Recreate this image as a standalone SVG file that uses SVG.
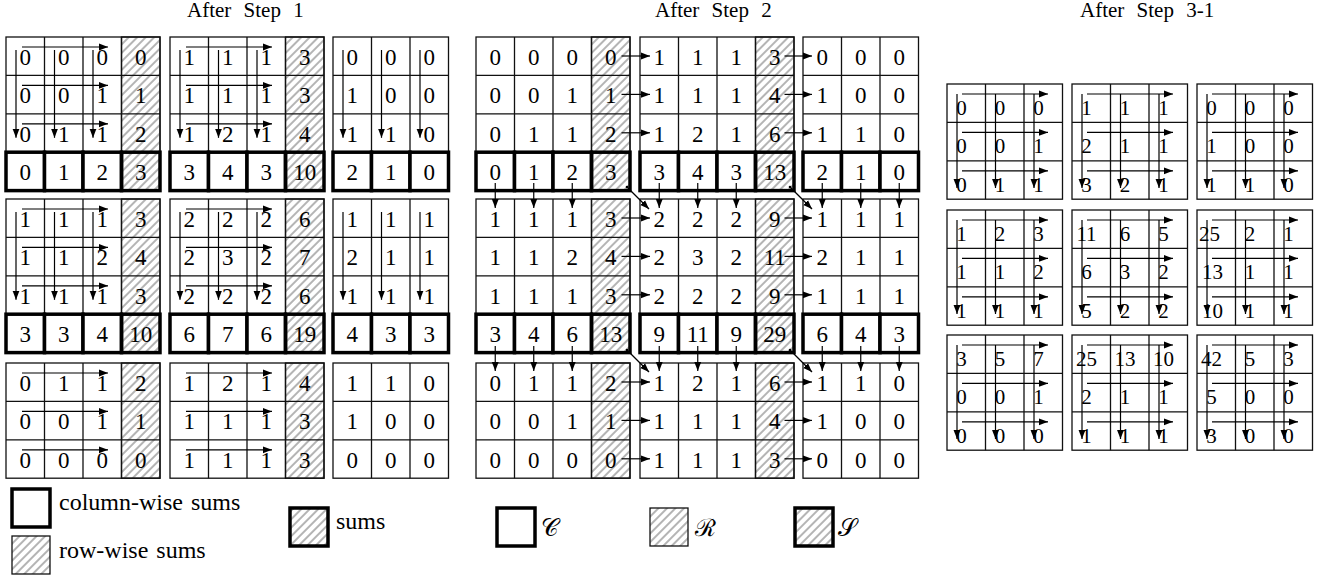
<svg xmlns="http://www.w3.org/2000/svg" xmlns:xlink="http://www.w3.org/1999/xlink" width="1329" height="580" viewBox="0 0 1329 580">
<style>
.cell{fill:#fff;stroke:#111;stroke-width:1.3}
.grid{fill:none;stroke:#111;stroke-width:1.3}
.hat{fill:url(#hatch);stroke:#111;stroke-width:1.3}
.bold{fill:#fff;stroke:#000;stroke-width:3.5}
.boldh{fill:url(#hatch);stroke:#000;stroke-width:3.5}
.ar{fill:none;stroke:#000;stroke-width:1.2;marker-end:url(#ah)}
.dg{fill:none;stroke:#000;stroke-width:1.2;marker-end:url(#ah);marker-start:url(#dot)}
text{font-family:"Liberation Serif","Times New Roman",serif;fill:#000}
.n{font-size:23px;text-anchor:middle}
.m{font-size:21px;text-anchor:middle}
.title{font-size:21px;word-spacing:7px}
.lg{font-size:24px;word-spacing:2px}
.cal{font-size:24px;font-family:"DejaVu Serif","Liberation Serif",serif}
</style>
<defs>
<pattern id="hatch" width="6" height="6" patternUnits="userSpaceOnUse" patternTransform="rotate(45)">
<line x1="3" y1="0" x2="3" y2="6" stroke="#444" stroke-width="0.8"/>
</pattern>
<marker id="ah" viewBox="0 0 10 10" refX="10" refY="5" markerWidth="9" markerHeight="9" markerUnits="userSpaceOnUse" orient="auto">
<path d="M0,1.2 L10,5 L0,8.8 z" fill="#000"/>
</marker>
<marker id="dot" viewBox="0 0 4 4" refX="2" refY="2" markerWidth="4" markerHeight="4" markerUnits="userSpaceOnUse">
<circle cx="2" cy="2" r="1.3" fill="#000"/>
</marker>
<g id="g33"><rect class="cell" width="115.5" height="115.2"/><path class="grid" d="M38.5,0V115.2M77,0V115.2M0,38.4H115.5M0,76.8H115.5"/></g>
<g id="g43"><rect class="cell" width="154" height="115.2"/><rect class="hat" x="115.5" width="38.5" height="115.2"/><path class="grid" d="M38.5,0V115.2M77,0V115.2M115.5,0V115.2M0,38.4H154M0,76.8H154"/></g>
<g id="g44"><use xlink:href="#g43"/><rect class="bold" x="0" y="115.2" width="38.5" height="38.4"/><rect class="bold" x="38.5" y="115.2" width="38.5" height="38.4"/><rect class="bold" x="77" y="115.2" width="38.5" height="38.4"/><rect class="boldh" x="115.5" y="115.2" width="38.5" height="38.4"/></g>
<g id="g34"><use xlink:href="#g33"/><rect class="bold" x="0" y="115.2" width="38.5" height="38.4"/><rect class="bold" x="38.5" y="115.2" width="38.5" height="38.4"/><rect class="bold" x="77" y="115.2" width="38.5" height="38.4"/></g>
<g id="h1"><path class="ar" d="M16,10H102"/><path class="ar" d="M16,48.4H102"/><path class="ar" d="M16,86.8H102"/></g>
<g id="v1"><path class="ar" d="M10,13V100.8"/><path class="ar" d="M48.5,13V100.8"/><path class="ar" d="M87,13V100.8"/></g>
<g id="h3"><path class="ar" d="M15,10H101"/><path class="ar" d="M15,48.4H101"/><path class="ar" d="M15,86.8H101"/></g>
<g id="v3"><path class="ar" d="M10,10V104"/><path class="ar" d="M48.5,10V104"/><path class="ar" d="M87,10V104"/></g>
<g id="r2a"><path class="ar" d="M621.5,19H650"/><path class="ar" d="M621.5,57.4H650"/><path class="ar" d="M621.5,95.8H650"/><path class="ar" d="M784.5,19H812"/><path class="ar" d="M784.5,57.4H812"/><path class="ar" d="M784.5,95.8H812"/></g>
<g id="c2a"><path class="ar" d="M495.25,0V25"/><path class="ar" d="M533.75,0V25"/><path class="ar" d="M572.25,0V25"/><path class="ar" d="M659.25,0V25"/><path class="ar" d="M697.75,0V25"/><path class="ar" d="M736.25,0V25"/><path class="ar" d="M822.25,0V25"/><path class="ar" d="M860.75,0V25"/><path class="ar" d="M899.25,0V25"/><path class="dg" d="M627,4L649,26"/><path class="dg" d="M790,4L812,26"/></g>
</defs>
<rect width="1329" height="580" fill="#fff"/>

<g id="titles">
<text class="title" x="187" y="17">After Step 1</text>
<text class="title" x="655" y="17">After Step 2</text>
<text class="title" x="1080" y="17">After Step 3-1</text>
</g>

<!-- Step 1 -->
<g id="s1-b00" transform="translate(6,37)"><use xlink:href="#g44"/>
<text class="n" y="28"><tspan x="19.25">0</tspan><tspan x="57.75">0</tspan><tspan x="96.25">0</tspan><tspan x="134.75">0</tspan></text>
<text class="n" y="66.4"><tspan x="19.25">0</tspan><tspan x="57.75">0</tspan><tspan x="96.25">1</tspan><tspan x="134.75">1</tspan></text>
<text class="n" y="104.8"><tspan x="19.25">0</tspan><tspan x="57.75">1</tspan><tspan x="96.25">1</tspan><tspan x="134.75">2</tspan></text>
<text class="n" y="143.2"><tspan x="19.25">0</tspan><tspan x="57.75">1</tspan><tspan x="96.25">2</tspan><tspan x="134.75">3</tspan></text>
</g>
<g id="s1-b01" transform="translate(170,37)"><use xlink:href="#g44"/>
<text class="n" y="28"><tspan x="19.25">1</tspan><tspan x="57.75">1</tspan><tspan x="96.25">1</tspan><tspan x="134.75">3</tspan></text>
<text class="n" y="66.4"><tspan x="19.25">1</tspan><tspan x="57.75">1</tspan><tspan x="96.25">1</tspan><tspan x="134.75">3</tspan></text>
<text class="n" y="104.8"><tspan x="19.25">1</tspan><tspan x="57.75">2</tspan><tspan x="96.25">1</tspan><tspan x="134.75">4</tspan></text>
<text class="n" y="143.2"><tspan x="19.25">3</tspan><tspan x="57.75">4</tspan><tspan x="96.25">3</tspan><tspan x="134.75">10</tspan></text>
</g>
<g id="s1-b02" transform="translate(333,37)"><use xlink:href="#g34"/>
<text class="n" y="28"><tspan x="19.25">0</tspan><tspan x="57.75">0</tspan><tspan x="96.25">0</tspan></text>
<text class="n" y="66.4"><tspan x="19.25">1</tspan><tspan x="57.75">0</tspan><tspan x="96.25">0</tspan></text>
<text class="n" y="104.8"><tspan x="19.25">1</tspan><tspan x="57.75">1</tspan><tspan x="96.25">0</tspan></text>
<text class="n" y="143.2"><tspan x="19.25">2</tspan><tspan x="57.75">1</tspan><tspan x="96.25">0</tspan></text>
</g>
<g id="s1-b10" transform="translate(6,199)"><use xlink:href="#g44"/>
<text class="n" y="28"><tspan x="19.25">1</tspan><tspan x="57.75">1</tspan><tspan x="96.25">1</tspan><tspan x="134.75">3</tspan></text>
<text class="n" y="66.4"><tspan x="19.25">1</tspan><tspan x="57.75">1</tspan><tspan x="96.25">2</tspan><tspan x="134.75">4</tspan></text>
<text class="n" y="104.8"><tspan x="19.25">1</tspan><tspan x="57.75">1</tspan><tspan x="96.25">1</tspan><tspan x="134.75">3</tspan></text>
<text class="n" y="143.2"><tspan x="19.25">3</tspan><tspan x="57.75">3</tspan><tspan x="96.25">4</tspan><tspan x="134.75">10</tspan></text>
</g>
<g id="s1-b11" transform="translate(170,199)"><use xlink:href="#g44"/>
<text class="n" y="28"><tspan x="19.25">2</tspan><tspan x="57.75">2</tspan><tspan x="96.25">2</tspan><tspan x="134.75">6</tspan></text>
<text class="n" y="66.4"><tspan x="19.25">2</tspan><tspan x="57.75">3</tspan><tspan x="96.25">2</tspan><tspan x="134.75">7</tspan></text>
<text class="n" y="104.8"><tspan x="19.25">2</tspan><tspan x="57.75">2</tspan><tspan x="96.25">2</tspan><tspan x="134.75">6</tspan></text>
<text class="n" y="143.2"><tspan x="19.25">6</tspan><tspan x="57.75">7</tspan><tspan x="96.25">6</tspan><tspan x="134.75">19</tspan></text>
</g>
<g id="s1-b12" transform="translate(333,199)"><use xlink:href="#g34"/>
<text class="n" y="28"><tspan x="19.25">1</tspan><tspan x="57.75">1</tspan><tspan x="96.25">1</tspan></text>
<text class="n" y="66.4"><tspan x="19.25">2</tspan><tspan x="57.75">1</tspan><tspan x="96.25">1</tspan></text>
<text class="n" y="104.8"><tspan x="19.25">1</tspan><tspan x="57.75">1</tspan><tspan x="96.25">1</tspan></text>
<text class="n" y="143.2"><tspan x="19.25">4</tspan><tspan x="57.75">3</tspan><tspan x="96.25">3</tspan></text>
</g>
<g id="s1-b20" transform="translate(6,363)"><use xlink:href="#g43"/>
<text class="n" y="28"><tspan x="19.25">0</tspan><tspan x="57.75">1</tspan><tspan x="96.25">1</tspan><tspan x="134.75">2</tspan></text>
<text class="n" y="66.4"><tspan x="19.25">0</tspan><tspan x="57.75">0</tspan><tspan x="96.25">1</tspan><tspan x="134.75">1</tspan></text>
<text class="n" y="104.8"><tspan x="19.25">0</tspan><tspan x="57.75">0</tspan><tspan x="96.25">0</tspan><tspan x="134.75">0</tspan></text>
</g>
<g id="s1-b21" transform="translate(170,363)"><use xlink:href="#g43"/>
<text class="n" y="28"><tspan x="19.25">1</tspan><tspan x="57.75">2</tspan><tspan x="96.25">1</tspan><tspan x="134.75">4</tspan></text>
<text class="n" y="66.4"><tspan x="19.25">1</tspan><tspan x="57.75">1</tspan><tspan x="96.25">1</tspan><tspan x="134.75">3</tspan></text>
<text class="n" y="104.8"><tspan x="19.25">1</tspan><tspan x="57.75">1</tspan><tspan x="96.25">1</tspan><tspan x="134.75">3</tspan></text>
</g>
<g id="s1-b22" transform="translate(333,363)"><use xlink:href="#g33"/>
<text class="n" y="28"><tspan x="19.25">1</tspan><tspan x="57.75">1</tspan><tspan x="96.25">0</tspan></text>
<text class="n" y="66.4"><tspan x="19.25">1</tspan><tspan x="57.75">0</tspan><tspan x="96.25">0</tspan></text>
<text class="n" y="104.8"><tspan x="19.25">0</tspan><tspan x="57.75">0</tspan><tspan x="96.25">0</tspan></text>
</g>

<!-- Step 2 -->
<g id="s2-b00" transform="translate(476,37)"><use xlink:href="#g44"/>
<text class="n" y="28"><tspan x="19.25">0</tspan><tspan x="57.75">0</tspan><tspan x="96.25">0</tspan><tspan x="134.75">0</tspan></text>
<text class="n" y="66.4"><tspan x="19.25">0</tspan><tspan x="57.75">0</tspan><tspan x="96.25">1</tspan><tspan x="134.75">1</tspan></text>
<text class="n" y="104.8"><tspan x="19.25">0</tspan><tspan x="57.75">1</tspan><tspan x="96.25">1</tspan><tspan x="134.75">2</tspan></text>
<text class="n" y="143.2"><tspan x="19.25">0</tspan><tspan x="57.75">1</tspan><tspan x="96.25">2</tspan><tspan x="134.75">3</tspan></text>
</g>
<g id="s2-b01" transform="translate(640,37)"><use xlink:href="#g44"/>
<text class="n" y="28"><tspan x="19.25">1</tspan><tspan x="57.75">1</tspan><tspan x="96.25">1</tspan><tspan x="134.75">3</tspan></text>
<text class="n" y="66.4"><tspan x="19.25">1</tspan><tspan x="57.75">1</tspan><tspan x="96.25">1</tspan><tspan x="134.75">4</tspan></text>
<text class="n" y="104.8"><tspan x="19.25">1</tspan><tspan x="57.75">2</tspan><tspan x="96.25">1</tspan><tspan x="134.75">6</tspan></text>
<text class="n" y="143.2"><tspan x="19.25">3</tspan><tspan x="57.75">4</tspan><tspan x="96.25">3</tspan><tspan x="134.75">13</tspan></text>
</g>
<g id="s2-b02" transform="translate(803,37)"><use xlink:href="#g34"/>
<text class="n" y="28"><tspan x="19.25">0</tspan><tspan x="57.75">0</tspan><tspan x="96.25">0</tspan></text>
<text class="n" y="66.4"><tspan x="19.25">1</tspan><tspan x="57.75">0</tspan><tspan x="96.25">0</tspan></text>
<text class="n" y="104.8"><tspan x="19.25">1</tspan><tspan x="57.75">1</tspan><tspan x="96.25">0</tspan></text>
<text class="n" y="143.2"><tspan x="19.25">2</tspan><tspan x="57.75">1</tspan><tspan x="96.25">0</tspan></text>
</g>
<g id="s2-b10" transform="translate(476,199)"><use xlink:href="#g44"/>
<text class="n" y="28"><tspan x="19.25">1</tspan><tspan x="57.75">1</tspan><tspan x="96.25">1</tspan><tspan x="134.75">3</tspan></text>
<text class="n" y="66.4"><tspan x="19.25">1</tspan><tspan x="57.75">1</tspan><tspan x="96.25">2</tspan><tspan x="134.75">4</tspan></text>
<text class="n" y="104.8"><tspan x="19.25">1</tspan><tspan x="57.75">1</tspan><tspan x="96.25">1</tspan><tspan x="134.75">3</tspan></text>
<text class="n" y="143.2"><tspan x="19.25">3</tspan><tspan x="57.75">4</tspan><tspan x="96.25">6</tspan><tspan x="134.75">13</tspan></text>
</g>
<g id="s2-b11" transform="translate(640,199)"><use xlink:href="#g44"/>
<text class="n" y="28"><tspan x="19.25">2</tspan><tspan x="57.75">2</tspan><tspan x="96.25">2</tspan><tspan x="134.75">9</tspan></text>
<text class="n" y="66.4"><tspan x="19.25">2</tspan><tspan x="57.75">3</tspan><tspan x="96.25">2</tspan><tspan x="134.75">11</tspan></text>
<text class="n" y="104.8"><tspan x="19.25">2</tspan><tspan x="57.75">2</tspan><tspan x="96.25">2</tspan><tspan x="134.75">9</tspan></text>
<text class="n" y="143.2"><tspan x="19.25">9</tspan><tspan x="57.75">11</tspan><tspan x="96.25">9</tspan><tspan x="134.75">29</tspan></text>
</g>
<g id="s2-b12" transform="translate(803,199)"><use xlink:href="#g34"/>
<text class="n" y="28"><tspan x="19.25">1</tspan><tspan x="57.75">1</tspan><tspan x="96.25">1</tspan></text>
<text class="n" y="66.4"><tspan x="19.25">2</tspan><tspan x="57.75">1</tspan><tspan x="96.25">1</tspan></text>
<text class="n" y="104.8"><tspan x="19.25">1</tspan><tspan x="57.75">1</tspan><tspan x="96.25">1</tspan></text>
<text class="n" y="143.2"><tspan x="19.25">6</tspan><tspan x="57.75">4</tspan><tspan x="96.25">3</tspan></text>
</g>
<g id="s2-b20" transform="translate(476,363)"><use xlink:href="#g43"/>
<text class="n" y="28"><tspan x="19.25">0</tspan><tspan x="57.75">1</tspan><tspan x="96.25">1</tspan><tspan x="134.75">2</tspan></text>
<text class="n" y="66.4"><tspan x="19.25">0</tspan><tspan x="57.75">0</tspan><tspan x="96.25">1</tspan><tspan x="134.75">1</tspan></text>
<text class="n" y="104.8"><tspan x="19.25">0</tspan><tspan x="57.75">0</tspan><tspan x="96.25">0</tspan><tspan x="134.75">0</tspan></text>
</g>
<g id="s2-b21" transform="translate(640,363)"><use xlink:href="#g43"/>
<text class="n" y="28"><tspan x="19.25">1</tspan><tspan x="57.75">2</tspan><tspan x="96.25">1</tspan><tspan x="134.75">6</tspan></text>
<text class="n" y="66.4"><tspan x="19.25">1</tspan><tspan x="57.75">1</tspan><tspan x="96.25">1</tspan><tspan x="134.75">4</tspan></text>
<text class="n" y="104.8"><tspan x="19.25">1</tspan><tspan x="57.75">1</tspan><tspan x="96.25">1</tspan><tspan x="134.75">3</tspan></text>
</g>
<g id="s2-b22" transform="translate(803,363)"><use xlink:href="#g33"/>
<text class="n" y="28"><tspan x="19.25">1</tspan><tspan x="57.75">1</tspan><tspan x="96.25">0</tspan></text>
<text class="n" y="66.4"><tspan x="19.25">1</tspan><tspan x="57.75">0</tspan><tspan x="96.25">0</tspan></text>
<text class="n" y="104.8"><tspan x="19.25">0</tspan><tspan x="57.75">0</tspan><tspan x="96.25">0</tspan></text>
</g>

<!-- Step 3-1 -->
<g id="s3-b00" transform="translate(947,84)"><use xlink:href="#g33"/>
<text class="m" y="31"><tspan x="14.5">0</tspan><tspan x="53">0</tspan><tspan x="91.5">0</tspan></text>
<text class="m" y="69.4"><tspan x="14.5">0</tspan><tspan x="53">0</tspan><tspan x="91.5">1</tspan></text>
<text class="m" y="107.8"><tspan x="14.5">0</tspan><tspan x="53">1</tspan><tspan x="91.5">1</tspan></text>
</g>
<g id="s3-b01" transform="translate(1072,84)"><use xlink:href="#g33"/>
<text class="m" y="31"><tspan x="14.5">1</tspan><tspan x="53">1</tspan><tspan x="91.5">1</tspan></text>
<text class="m" y="69.4"><tspan x="14.5">2</tspan><tspan x="53">1</tspan><tspan x="91.5">1</tspan></text>
<text class="m" y="107.8"><tspan x="14.5">3</tspan><tspan x="53">2</tspan><tspan x="91.5">1</tspan></text>
</g>
<g id="s3-b02" transform="translate(1197,84)"><use xlink:href="#g33"/>
<text class="m" y="31"><tspan x="14.5">0</tspan><tspan x="53">0</tspan><tspan x="91.5">0</tspan></text>
<text class="m" y="69.4"><tspan x="14.5">1</tspan><tspan x="53">0</tspan><tspan x="91.5">0</tspan></text>
<text class="m" y="107.8"><tspan x="14.5">1</tspan><tspan x="53">1</tspan><tspan x="91.5">0</tspan></text>
</g>
<g id="s3-b10" transform="translate(947,210)"><use xlink:href="#g33"/>
<text class="m" y="31"><tspan x="14.5">1</tspan><tspan x="53">2</tspan><tspan x="91.5">3</tspan></text>
<text class="m" y="69.4"><tspan x="14.5">1</tspan><tspan x="53">1</tspan><tspan x="91.5">2</tspan></text>
<text class="m" y="107.8"><tspan x="14.5">1</tspan><tspan x="53">1</tspan><tspan x="91.5">1</tspan></text>
</g>
<g id="s3-b11" transform="translate(1072,210)"><use xlink:href="#g33"/>
<text class="m" y="31"><tspan x="14.5">11</tspan><tspan x="53">6</tspan><tspan x="91.5">5</tspan></text>
<text class="m" y="69.4"><tspan x="14.5">6</tspan><tspan x="53">3</tspan><tspan x="91.5">2</tspan></text>
<text class="m" y="107.8"><tspan x="14.5">5</tspan><tspan x="53">2</tspan><tspan x="91.5">2</tspan></text>
</g>
<g id="s3-b12" transform="translate(1197,210)"><use xlink:href="#g33"/>
<text class="m" y="31"><tspan x="12.5">25</tspan><tspan x="53">2</tspan><tspan x="91.5">1</tspan></text>
<text class="m" y="69.4"><tspan x="15.5">13</tspan><tspan x="53">1</tspan><tspan x="91.5">1</tspan></text>
<text class="m" y="107.8"><tspan x="15.5">10</tspan><tspan x="53">1</tspan><tspan x="91.5">1</tspan></text>
</g>
<g id="s3-b20" transform="translate(947,335)"><use xlink:href="#g33"/>
<text class="m" y="31"><tspan x="14.5">3</tspan><tspan x="53">5</tspan><tspan x="91.5">7</tspan></text>
<text class="m" y="69.4"><tspan x="14.5">0</tspan><tspan x="53">0</tspan><tspan x="91.5">1</tspan></text>
<text class="m" y="107.8"><tspan x="14.5">0</tspan><tspan x="53">0</tspan><tspan x="91.5">0</tspan></text>
</g>
<g id="s3-b21" transform="translate(1072,335)"><use xlink:href="#g33"/>
<text class="m" y="31"><tspan x="14.5">25</tspan><tspan x="53">13</tspan><tspan x="91.5">10</tspan></text>
<text class="m" y="69.4"><tspan x="14.5">2</tspan><tspan x="53">1</tspan><tspan x="91.5">1</tspan></text>
<text class="m" y="107.8"><tspan x="14.5">1</tspan><tspan x="53">1</tspan><tspan x="91.5">1</tspan></text>
</g>
<g id="s3-b22" transform="translate(1197,335)"><use xlink:href="#g33"/>
<text class="m" y="31"><tspan x="14.5">42</tspan><tspan x="53">5</tspan><tspan x="91.5">3</tspan></text>
<text class="m" y="69.4"><tspan x="14.5">5</tspan><tspan x="53">0</tspan><tspan x="91.5">0</tspan></text>
<text class="m" y="107.8"><tspan x="14.5">3</tspan><tspan x="53">0</tspan><tspan x="91.5">0</tspan></text>
</g>

<!-- connectors -->
<g id="connectors">
<g id="s1-arrows">
<use xlink:href="#h1" x="6" y="37"/><use xlink:href="#v1" x="6" y="37"/>
<use xlink:href="#h1" x="170" y="37"/><use xlink:href="#v1" x="170" y="37"/>
<use xlink:href="#v1" x="333" y="37"/>
<use xlink:href="#h1" x="6" y="199"/><use xlink:href="#v1" x="6" y="199"/>
<use xlink:href="#h1" x="170" y="199"/><use xlink:href="#v1" x="170" y="199"/>
<use xlink:href="#v1" x="333" y="199"/>
<use xlink:href="#h1" x="6" y="363"/>
<use xlink:href="#h1" x="170" y="363"/>
</g>
<g id="s2-arrows">
<use xlink:href="#r2a" x="0" y="37"/>
<use xlink:href="#r2a" x="0" y="199"/>
<use xlink:href="#r2a" x="0" y="363"/>
<use xlink:href="#c2a" x="0" y="183"/>
<use xlink:href="#c2a" x="0" y="346"/>
</g>
<g id="s3-arrows">
<use xlink:href="#h3" x="947" y="84"/><use xlink:href="#v3" x="947" y="84"/>
<use xlink:href="#h3" x="1072" y="84"/><use xlink:href="#v3" x="1072" y="84"/>
<use xlink:href="#h3" x="1197" y="84"/><use xlink:href="#v3" x="1197" y="84"/>
<use xlink:href="#h3" x="947" y="210"/><use xlink:href="#v3" x="947" y="210"/>
<use xlink:href="#h3" x="1072" y="210"/><use xlink:href="#v3" x="1072" y="210"/>
<use xlink:href="#h3" x="1197" y="210"/><use xlink:href="#v3" x="1197" y="210"/>
<use xlink:href="#h3" x="947" y="335"/><use xlink:href="#v3" x="947" y="335"/>
<use xlink:href="#h3" x="1072" y="335"/><use xlink:href="#v3" x="1072" y="335"/>
<use xlink:href="#h3" x="1197" y="335"/><use xlink:href="#v3" x="1197" y="335"/>
</g>
</g>

<!-- legends -->
<g id="legend1">
<rect class="bold" x="12" y="489" width="38" height="38"/>
<text class="lg" x="59" y="510">column-wise sums</text>
<rect class="hat" x="12" y="536" width="38" height="38"/>
<text class="lg" x="59" y="558">row-wise sums</text>
<rect class="boldh" x="290" y="508" width="38" height="38"/>
<text class="lg" x="336" y="529">sums</text>
</g>
<g id="legend2">
<rect class="bold" x="497" y="508" width="38" height="38"/>
<text class="cal" x="541" y="536">𝒞</text>
<rect class="hat" x="650" y="508" width="38" height="38"/>
<text class="cal" x="695" y="536">ℛ</text>
<rect class="boldh" x="795" y="508" width="38" height="38"/>
<text class="cal" x="838" y="536">𝒮</text>
</g>
</svg>
